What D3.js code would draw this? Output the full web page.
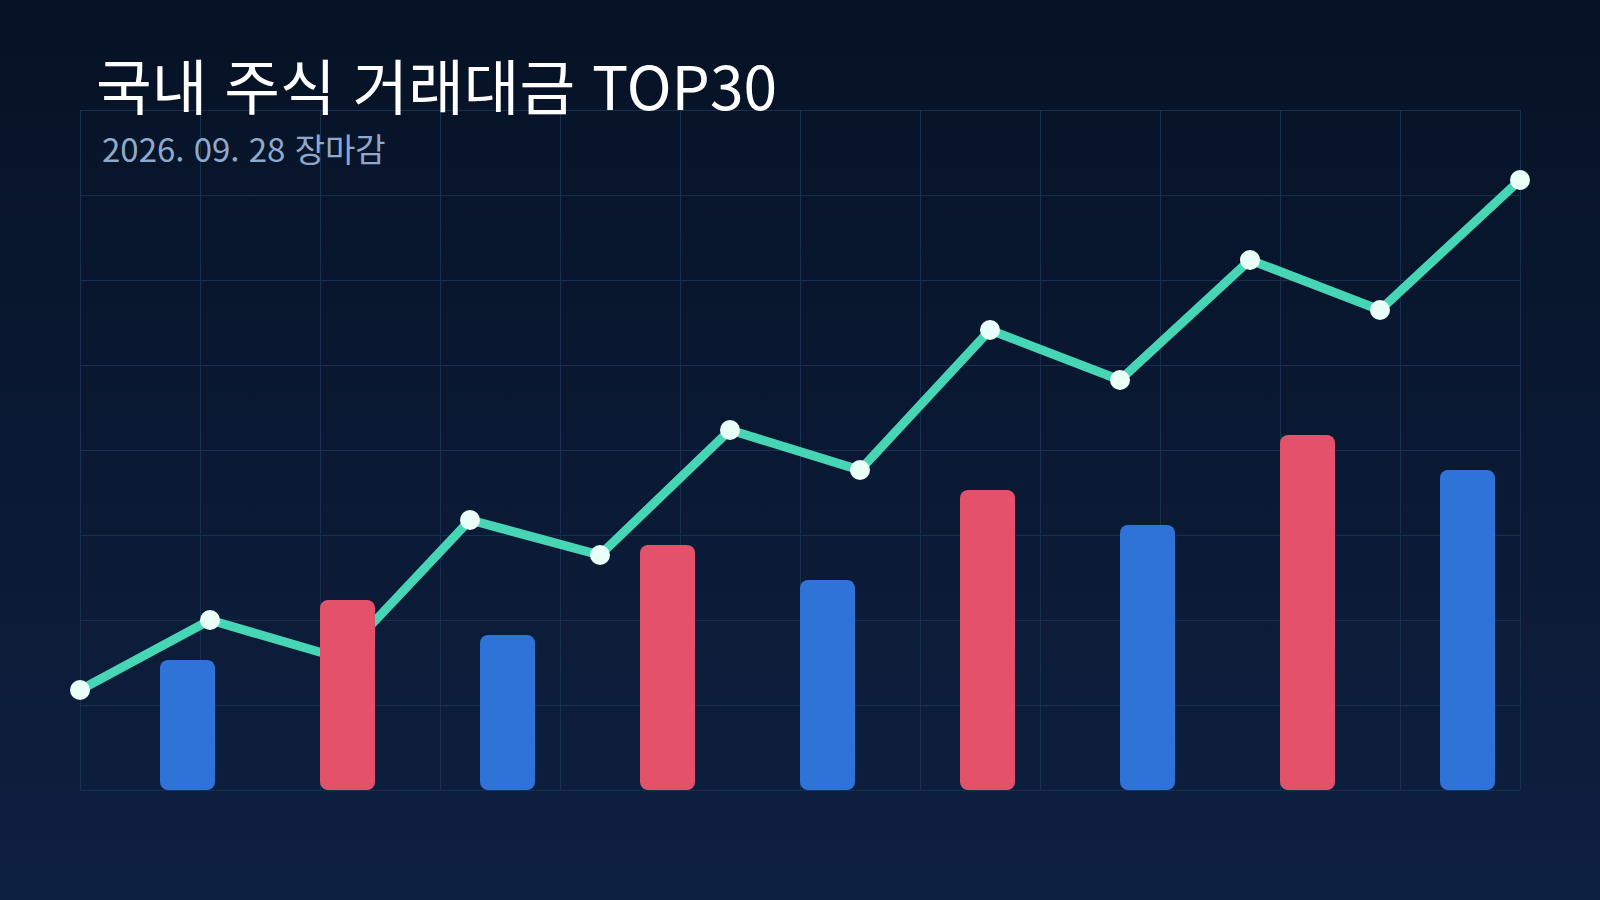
<!DOCTYPE html>
<html lang="ko">
<head>
<meta charset="utf-8">
<script src="https://cdn.jsdelivr.net/npm/d3@7"></script>
<style>
  html, body { margin: 0; padding: 0; background: #0b1a33; }
  svg { display: block; }
</style>
</head>
<body>
<svg id="chart" width="1600" height="900"></svg>
<script>
// 장중 누적 거래대금 (line) - 시점, 값
const lineTimes = [0, 13, 26, 39, 52, 65, 78, 91, 104, 117, 130, 144];
const lineValues = [100, 170, 132, 270, 235, 360, 320, 460, 410, 530, 480, 610];

// 종목별 거래대금 (bars)
const barCategories = ["1", "2", "3", "4", "5", "6", "7", "8", "9"];
const barValues = [130, 190, 155, 245, 210, 300, 265, 355, 320];
const barUp = [false, true, false, true, false, true, false, true, false];

const titleText = "국내 주식 거래대금 TOP30";
const subtitleText = "2026. 09. 28 장마감";

const W = 1600, H = 900;
const plot = { left: 80, right: 1520, top: 110, bottom: 790 };
const fontStack = "'Noto Sans CJK KR', 'Noto Sans', sans-serif";

const svg = d3.select("#chart");

// background gradient
const defs = svg.append("defs");
const bg = defs.append("linearGradient")
  .attr("id", "bg")
  .attr("x1", 0).attr("y1", 0).attr("x2", 0).attr("y2", 1);
bg.append("stop").attr("offset", "0%").attr("stop-color", "#061225");
bg.append("stop").attr("offset", "100%").attr("stop-color", "#0e2041");

svg.append("rect")
  .attr("width", W)
  .attr("height", H)
  .attr("fill", "url(#bg)");

const x = d3.scaleLinear().domain([0, 144]).range([plot.left, plot.right]);
const y = d3.scaleLinear().domain([0, 680]).range([plot.bottom, plot.top]);

const xb = d3.scaleBand()
  .domain(barCategories)
  .range([plot.left, plot.right])
  .paddingInner(0.65625)
  .paddingOuter(0.328125)
  .align(0.762);

// grid
const grid = svg.append("g").attr("class", "grid");
grid.selectAll("line.h")
  .data(d3.range(0, 681, 85))
  .enter()
  .append("line")
  .attr("class", "h")
  .attr("x1", plot.left)
  .attr("x2", plot.right)
  .attr("y1", (d) => y(d))
  .attr("y2", (d) => y(d));
grid.selectAll("line.v")
  .data(d3.range(0, 145, 12))
  .enter()
  .append("line")
  .attr("class", "v")
  .attr("x1", (d) => x(d))
  .attr("x2", (d) => x(d))
  .attr("y1", plot.top)
  .attr("y2", plot.bottom);
grid.selectAll("line")
  .style("stroke", "#17304f")
  .style("stroke-width", 1)
  .attr("shape-rendering", "crispEdges");

// line
const pts = lineTimes.map((t, i) => [t, lineValues[i]]);
svg.append("path")
  .datum(pts)
  .attr("d", d3.line().x((d) => x(d[0])).y((d) => y(d[1])))
  .style("fill", "none")
  .style("stroke", "#47d6b5")
  .style("stroke-width", 9)
  .style("stroke-linejoin", "miter");

svg.append("g")
  .selectAll("circle")
  .data(pts)
  .enter()
  .append("circle")
  .attr("cx", (d) => x(d[0]))
  .attr("cy", (d) => y(d[1]))
  .attr("r", 10)
  .style("fill", "#e9fff7");

// bars
svg.append("g")
  .selectAll("rect")
  .data(barValues)
  .enter()
  .append("rect")
  .attr("x", (d, i) => xb(barCategories[i]))
  .attr("y", (d) => y(d))
  .attr("width", xb.bandwidth())
  .attr("height", (d) => y(0) - y(d))
  .attr("rx", 8)
  .style("fill", (d, i) => (barUp[i] ? "#e4516b" : "#2f73d9"));

// titles
svg.append("text")
  .attr("x", 96)
  .attr("y", 110)
  .text(titleText)
  .style("font-family", fontStack)
  .style("font-size", "60.5px")
  .style("fill", "#ffffff");

svg.append("text")
  .attr("x", 102)
  .attr("y", 162)
  .text(subtitleText)
  .style("font-family", fontStack)
  .style("font-size", "33px")
  .style("fill", "#8ea9cb");
</script>
</body>
</html>
